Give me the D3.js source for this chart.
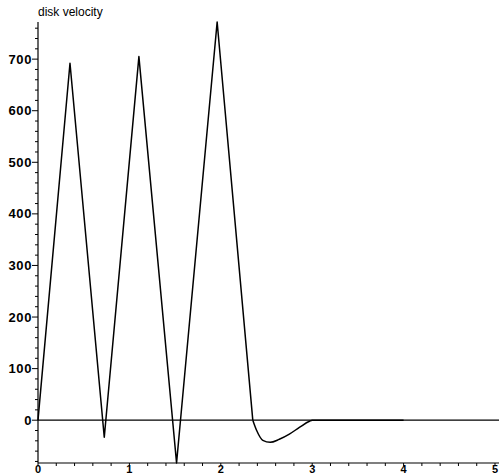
<!DOCTYPE html>
<html>
<head>
<meta charset="utf-8">
<script src="https://cdn.jsdelivr.net/npm/d3@7"></script>
<style>
  body { margin: 0; background: #fff; }
  svg { display: block; }
</style>
</head>
<body>
<svg id="chart" width="499" height="474"></svg>
<script>
// time (s) and disk velocity
const times      = [0, 0.35, 0.725, 1.104, 1.516, 1.96, 2.35, 2.39, 2.46, 2.54, 2.64, 2.75, 2.86, 2.97, 3.0, 4.0];
const velocities = [0, 692,  -33,   705,   -83,   772,  0,    -19,  -39,  -43,  -37,  -27,  -14,  -2,   0,   0];
const xTicks = [0, 1, 2, 3, 4, 5];
const yTicks = [0, 100, 200, 300, 400, 500, 600, 700];
const yLabel = 'disk velocity';

(function() {
  const svg = d3.select('#chart');
  const x = d3.scaleLinear().domain([0, 5]).range([38, 495]);
  const y = d3.scaleLinear().domain([-83, 772]).range([463, 22]);
  const font = '"Liberation Sans", Arial, sans-serif';

  // zero line across the whole width
  svg.append('line')
    .attr('x1', x(0)).attr('x2', 499)
    .attr('y1', y(0)).attr('y2', y(0))
    .attr('stroke', '#000').attr('stroke-width', 1.2);

  // x axis at the bottom, minor ticks every 0.2
  const xAxis = svg.append('g').attr('transform', `translate(0,${y(-83)})`);
  xAxis.append('line').attr('x1', x(0)).attr('x2', 499).attr('y1', 0).attr('y2', 0)
    .attr('stroke', '#000').attr('stroke-width', 1.2);
  xAxis.selectAll('line.minor')
    .data(d3.range(0, 5.01, 0.2))
    .enter().append('line')
    .attr('class', 'minor')
    .attr('x1', d => x(d)).attr('x2', d => x(d))
    .attr('y1', 0).attr('y2', 3)
    .attr('stroke', '#000');
  xAxis.selectAll('text')
    .data(xTicks)
    .enter().append('text')
    .attr('x', d => x(d))
    .attr('y', 9.5)
    .attr('text-anchor', 'middle')
    .attr('font-family', font)
    .attr('font-weight', 'bold')
    .attr('font-size', '11px')
    .text(d => d);

  // y axis with minor ticks every 20
  const yAxis = svg.append('g').attr('transform', `translate(${x(0)},0)`);
  yAxis.append('line').attr('x1', 0).attr('x2', 0).attr('y1', y(772)).attr('y2', y(-83))
    .attr('stroke', '#000').attr('stroke-width', 1.2);
  yAxis.selectAll('line.minor')
    .data(d3.range(-80, 772, 20))
    .enter().append('line')
    .attr('class', 'minor')
    .attr('x1', d => (d % 100 === 0 ? -6 : -3)).attr('x2', 0)
    .attr('y1', d => y(d)).attr('y2', d => y(d))
    .attr('stroke', '#000');
  yAxis.selectAll('text')
    .data(yTicks)
    .enter().append('text')
    .attr('x', -6)
    .attr('y', d => y(d) + 4.5)
    .attr('text-anchor', 'end')
    .attr('font-family', font)
    .attr('font-weight', 'bold')
    .attr('font-size', '13px')
    .attr('letter-spacing', '0.6px')
    .text(d => d);

  svg.append('text')
    .attr('x', x(0))
    .attr('y', 16)
    .attr('font-family', font)
    .attr('font-size', '12px')
    .text(yLabel);

  // the velocity curve: straight ramps, then a smooth settling tail
  const pts = times.map((t, i) => [t, velocities[i]]);
  const split = times.indexOf(2.35);
  const lineFn = d3.line().x(d => x(d[0])).y(d => y(d[1]));
  svg.append('path')
    .datum(pts.slice(0, split + 1))
    .attr('fill', 'none')
    .attr('stroke', '#000')
    .attr('stroke-width', 1.5)
    .attr('stroke-linejoin', 'round')
    .attr('d', lineFn);
  svg.append('path')
    .datum(pts.slice(split))
    .attr('fill', 'none')
    .attr('stroke', '#000')
    .attr('stroke-width', 1.5)
    .attr('d', lineFn.curve(d3.curveMonotoneX));
})();
</script>
</body>
</html>
